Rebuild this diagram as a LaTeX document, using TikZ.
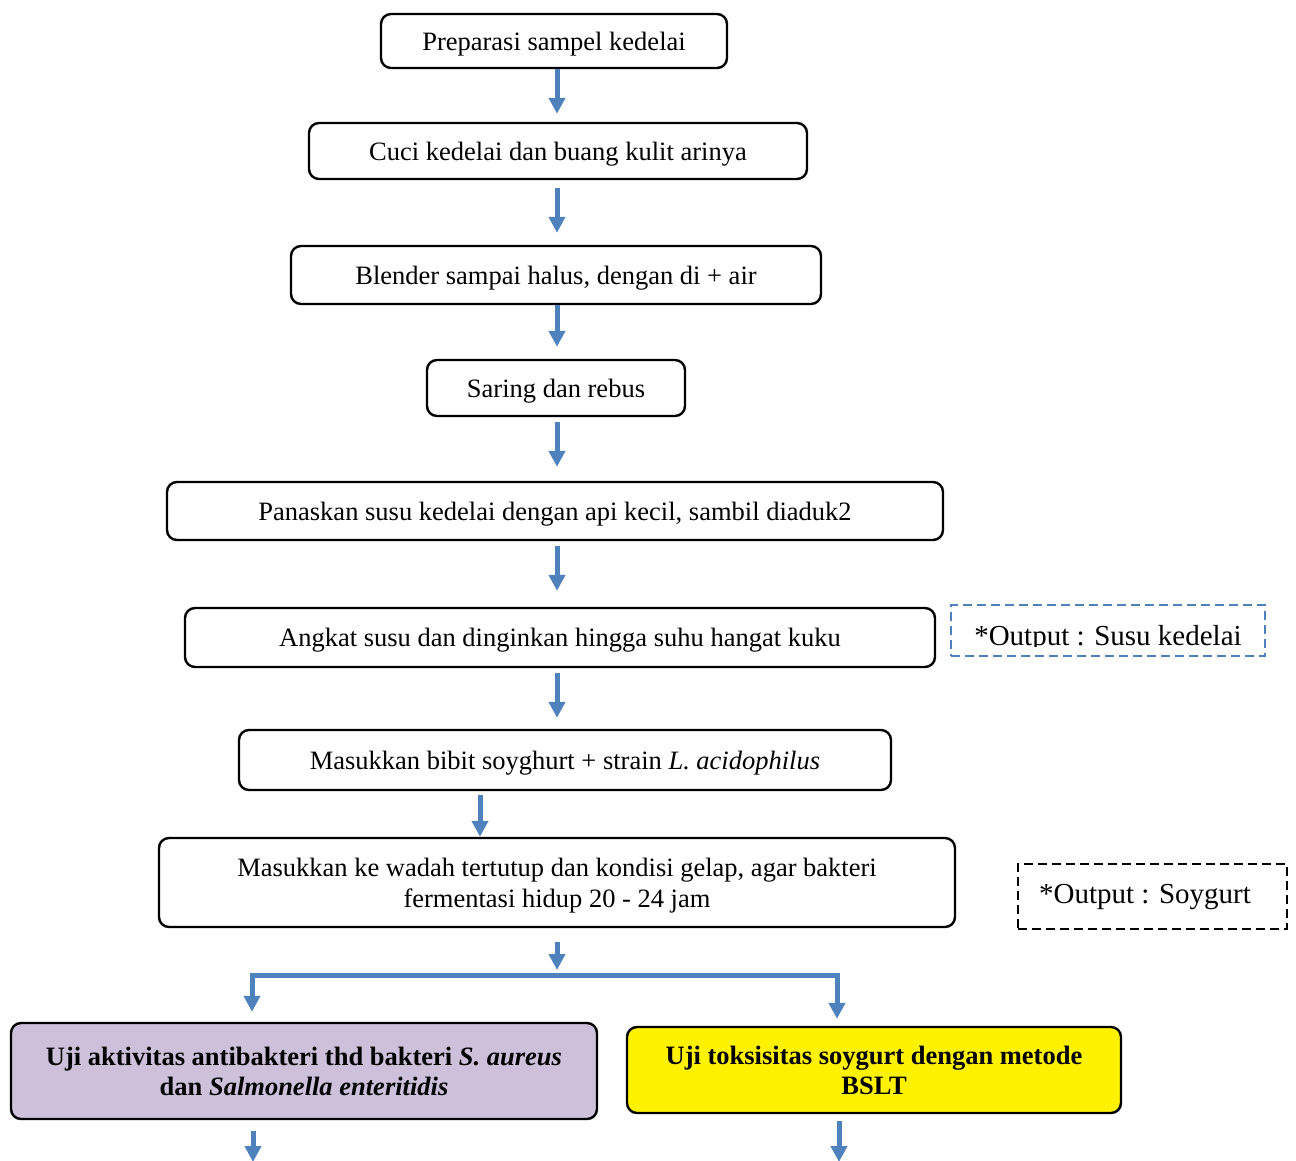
\documentclass[tikz,border=0pt]{standalone}
\usepackage{fontspec}
\setmainfont{Liberation Serif}
\usetikzlibrary{arrows.meta}
\definecolor{arrblue}{HTML}{4F81BD}
\definecolor{lav}{HTML}{CCC0DA}
\begin{document}
\begin{tikzpicture}[x=1pt,y=-1pt,
  box/.style={draw=black,line width=2.4pt,rounded corners=10pt,inner sep=0pt,align=center,
    text depth=0pt,font=\fontsize{26.5}{31}\selectfont},
  bbox/.style={box,font=\fontsize{26.5}{30}\selectfont\bfseries},
  arr/.style={draw=arrblue,line width=5pt,-{Triangle[width=16pt,length=16pt]}},
  hline/.style={draw=arrblue,line width=5pt},
  outbox/.style={line width=2.3pt,dash pattern=on 9pt off 5pt,inner sep=0pt,minimum width=#1},
  outtext/.style={font=\fontsize{29}{33}\selectfont,inner sep=0pt}]
\useasboundingbox (0,0) rectangle (1296,1160);

\node[box,minimum width=346pt,minimum height=54pt] (n1) at (554,41) {Preparasi sampel kedelai};
\node[box,minimum width=498pt,minimum height=56pt] (n2) at (558,151) {Cuci kedelai dan buang kulit arinya};
\node[box,minimum width=530pt,minimum height=58pt] (n3) at (556,275) {Blender sampai halus, dengan di + air};
\node[box,minimum width=258pt,minimum height=56pt] (n4) at (556,388) {Saring dan rebus};
\node[box,minimum width=776pt,minimum height=58pt] (n5) at (555,511) {Panaskan susu kedelai dengan api kecil, sambil diaduk2};
\node[box,minimum width=750pt,minimum height=59pt] (n6) at (560,637.5) {Angkat susu dan dinginkan hingga suhu hangat kuku};
\node[box,minimum width=652pt,minimum height=60pt] (n7) at (565,760) {Masukkan bibit soyghurt + strain \textit{L. acidophilus}};
\node[box,minimum width=796pt,minimum height=89pt] (n8) at (557,882.5) {Masukkan ke wadah tertutup dan kondisi gelap, agar bakteri\\fermentasi hidup 20 - 24 jam};
\node[bbox,fill=lav,minimum width=586pt,minimum height=96pt] (n9) at (304,1071) {Uji aktivitas antibakteri thd bakteri \textit{S. aureus}\\dan \textit{Salmonella enteritidis}};
\node[bbox,fill=yellow,minimum width=494pt,minimum height=86pt] (n10) at (874,1070) {Uji toksisitas soygurt dengan metode\\BSLT};

% output boxes
\node[outbox=314pt,draw=arrblue,minimum height=51pt] (o1) at (1108,630.5) {};
\begin{scope}
  \clip (951,605) rectangle (1265,646);
  \node[outtext] (o1t) at (1108,639) {*Output : Susu kedelai};
\end{scope}
\node[outbox=269pt,draw=black,minimum height=65pt] (o2) at (1152.5,896.5) {};
\node[outtext] (o2t) at (1145,897) {*Output : Soygurt};

% connector coordinates
\coordinate (ax) at (557,0);
\coordinate (bx) at (480,0);
\coordinate (sl) at (252,975);
\coordinate (sr) at (837,975);
\coordinate (el) at (253,1162);
\coordinate (er) at (839,1162);

\draw[arr,shorten >=8pt] (n1.south -| ax) -- (n2.north -| ax);
\draw[arr,shorten <=8pt,shorten >=12pt] (n2.south -| ax) -- (n3.north -| ax);
\draw[arr,shorten >=12pt] (n3.south -| ax) -- (n4.north -| ax);
\draw[arr,shorten <=5pt,shorten >=14pt] (n4.south -| ax) -- (n5.north -| ax);
\draw[arr,shorten <=5pt,shorten >=16pt] (n5.south -| ax) -- (n6.north -| ax);
\draw[arr,shorten <=5pt,shorten >=11pt] (n6.south -| ax) -- (n7.north -| ax);
\draw[arr,shorten <=4pt] (n7.south -| bx) -- (n8.north -| bx);
\draw[arr,shorten <=14pt,shorten >=5pt] (n8.south -| ax) -- (sl -| ax);
\draw[hline] ([xshift=-2.5pt]sl) -- ([xshift=2.5pt]sr);
\draw[arr,shorten >=10pt] (sl) -- (n9.north -| sl);
\draw[arr,shorten >=7pt] (sr) -- (n10.north -| sr);
\draw[arr,shorten <=11pt] (n9.south -| el) -- (el);
\draw[arr,shorten <=7pt] (n10.south -| er) -- (er);
\end{tikzpicture}
\end{document}
